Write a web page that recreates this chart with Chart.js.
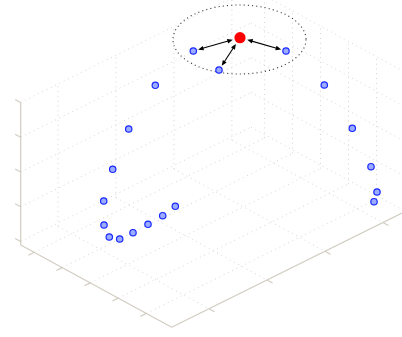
<!DOCTYPE html>
<html>
<head>
<meta charset="utf-8">
<script src="https://cdn.jsdelivr.net/npm/chart.js@4.4.1/dist/chart.umd.min.js"></script>
<style>
  html, body { margin: 0; padding: 0; background: #ffffff; }
  canvas { display: block; }
</style>
</head>
<body>
<canvas id="chart" width="402" height="337"></canvas>
<script>
// ---- data -------------------------------------------------------------
// Trajectory samples on the view plane (x to the right, y downward)
const trackX = [175.3, 162.7, 148.0, 133.0, 119.7, 109.3, 104.0, 103.7, 112.7, 128.7,
                155.3, 193.3, 219.0, 286.0, 324.3, 352.3, 371.0, 377.0, 374.0];
const trackY = [206.3, 215.7, 224.3, 232.7, 239.0, 237.0, 225.0, 201.0, 169.3, 129.0,
                 85.3,  51.0,  70.0,  51.0,  85.0, 128.3, 166.7, 192.0, 201.7];

// Query point and the samples linked to it
const queryX = [240.0];
const queryY = [37.7];
const neighbourIdx = [11, 12, 13];

// Search radius drawn around the query point
const regionCentre = [239.5, 39.5];
const regionRadii = [66.5, 34.5];

// Axis limits and tick values of the 3-D box
const uLim = [0.52, 5.91];
const uTicks = [1, 2, 3, 4, 5];
const vLim = [0.356, 4.33];
const vTicks = [1, 2, 3, 4];
const wLim = [-0.1, 4];
const wTicks = [0, 1, 2, 3, 4];

// ---- view of the box -------------------------------------------------
const cornerA = [20.7, 245.0];   // (uMin, vMin, wMin)
const cornerB = [171.7, 327.3];  // (uMax, vMin, wMin)
const cornerC = [402.0, 213.0];  // (uMax, vMax, wMin)
const boxHeight = 142.5;

function project(u, v, w) {
  const fu = (u - uLim[0]) / (uLim[1] - uLim[0]);
  const fv = (v - vLim[0]) / (vLim[1] - vLim[0]);
  const fw = (w - wLim[0]) / (wLim[1] - wLim[0]);
  return [
    cornerA[0] + fu * (cornerB[0] - cornerA[0]) + fv * (cornerC[0] - cornerB[0]),
    cornerA[1] + fu * (cornerB[1] - cornerA[1]) + fv * (cornerC[1] - cornerB[1]) - fw * boxHeight
  ];
}

function addSeg(list, p, q) {
  list.push({ x: p[0], y: p[1] }, { x: q[0], y: q[1] }, { x: q[0], y: null });
}

// Grid on the floor and the two back walls
const gridPts = [];
const [u0, u1] = uLim, [v0, v1] = vLim, [w0, w1] = wLim;
uTicks.forEach(u => addSeg(gridPts, project(u, v0, w0), project(u, v1, w0)));
vTicks.forEach(v => addSeg(gridPts, project(u0, v, w0), project(u1, v, w0)));
wTicks.forEach(w => addSeg(gridPts, project(u0, v0, w), project(u0, v1, w)));
vTicks.forEach(v => addSeg(gridPts, project(u0, v, w0), project(u0, v, w1)));
wTicks.forEach(w => addSeg(gridPts, project(u0, v1, w), project(u1, v1, w)));
uTicks.forEach(u => addSeg(gridPts, project(u, v1, w0), project(u, v1, w1)));

// Axis lines with their tick marks
const axisPts = [];
addSeg(axisPts, project(u0, v0, w0), project(u0, v0, w1));
addSeg(axisPts, project(u0, v0, w0), project(u1, v0, w0));
addSeg(axisPts, project(u1, v0, w0), project(u1, v1, w0));
wTicks.forEach(w => addSeg(axisPts, project(u0, v0, w), project(u0 - 0.2, v0, w)));
uTicks.forEach(u => addSeg(axisPts, project(u, v0, w0), project(u, v0 - 0.1, w0)));
vTicks.forEach(v => addSeg(axisPts, project(u1, v, w0), project(u1 + 0.2, v, w0)));

const trackPts = trackX.map((x, i) => ({ x, y: trackY[i] }));
const queryPts = queryX.map((x, i) => ({ x, y: queryY[i] }));

// ---- overlays ----------------------------------------------------------
function arrowHead(ctx, px, py, ux, uy) {
  const len = 5.5, half = 2.3;
  const bx = px - ux * len, by = py - uy * len;
  ctx.beginPath();
  ctx.moveTo(px, py);
  ctx.lineTo(bx - uy * half, by + ux * half);
  ctx.lineTo(bx + uy * half, by - ux * half);
  ctx.closePath();
  ctx.fill();
}

const overlayPlugin = {
  id: 'overlay',
  afterDatasetDraw(chart, args) {
    if (args.index !== 1) return;
    const { ctx, scales: { x, y } } = chart;
    const cx = x.getPixelForValue(regionCentre[0]);
    const cy = y.getPixelForValue(regionCentre[1]);
    const rx = Math.abs(x.getPixelForValue(regionCentre[0] + regionRadii[0]) - cx);
    const ry = Math.abs(y.getPixelForValue(regionCentre[1] + regionRadii[1]) - cy);
    ctx.save();
    ctx.strokeStyle = '#3a3a3a';
    ctx.lineWidth = 1.1;
    ctx.setLineDash([1.1, 3.1]);
    ctx.beginPath();
    ctx.ellipse(cx, cy, rx, ry, 0, 0, Math.PI * 2);
    ctx.stroke();
    ctx.restore();
  },
  afterDatasetsDraw(chart) {
    const { ctx, scales: { x, y } } = chart;
    const qx = x.getPixelForValue(queryX[0]), qy = y.getPixelForValue(queryY[0]);
    ctx.save();
    ctx.strokeStyle = '#000000';
    ctx.fillStyle = '#000000';
    ctx.lineWidth = 1.1;
    neighbourIdx.forEach(i => {
      const bx = x.getPixelForValue(trackX[i]), by = y.getPixelForValue(trackY[i]);
      const dx = bx - qx, dy = by - qy, L = Math.hypot(dx, dy);
      const ux = dx / L, uy = dy / L;
      const sx = qx + ux * 7.5, sy = qy + uy * 7.5;
      const ex = bx - ux * 5, ey = by - uy * 5;
      ctx.beginPath();
      ctx.moveTo(sx + ux * 3, sy + uy * 3);
      ctx.lineTo(ex - ux * 3, ey - uy * 3);
      ctx.stroke();
      arrowHead(ctx, sx, sy, -ux, -uy);
      arrowHead(ctx, ex, ey, ux, uy);
    });
    ctx.restore();
  }
};

// ---- chart ---------------------------------------------------------------
new Chart(document.getElementById('chart'), {
  type: 'scatter',
  data: {
    datasets: [
      {
        type: 'line', data: gridPts, borderColor: '#d4d4d4', borderWidth: 1,
        borderDash: [1, 3.8], pointRadius: 0, spanGaps: false, fill: false, tension: 0, order: 4
      },
      {
        type: 'line', data: axisPts, borderColor: '#d2cdc2', borderWidth: 1.2,
        pointRadius: 0, spanGaps: false, fill: false, tension: 0, order: 3
      },
      {
        data: trackPts, pointRadius: 3.2, pointBorderWidth: 1.2,
        pointBackgroundColor: 'rgb(155,172,255)', pointBorderColor: 'rgb(25,40,255)',
        showLine: false, order: 2
      },
      {
        data: queryPts, pointRadius: 5.6, pointBorderWidth: 0,
        pointBackgroundColor: '#ff0000', pointBorderColor: '#ff0000',
        showLine: false, order: 1
      }
    ]
  },
  options: {
    responsive: false,
    animation: false,
    events: [],
    layout: { padding: 0, autoPadding: false },
    plugins: { legend: { display: false }, tooltip: { enabled: false } },
    scales: {
      x: { type: 'linear', min: 0, max: 402, display: false },
      y: { type: 'linear', min: 0, max: 337, reverse: true, display: false }
    }
  },
  plugins: [overlayPlugin]
});
</script>
</body>
</html>
